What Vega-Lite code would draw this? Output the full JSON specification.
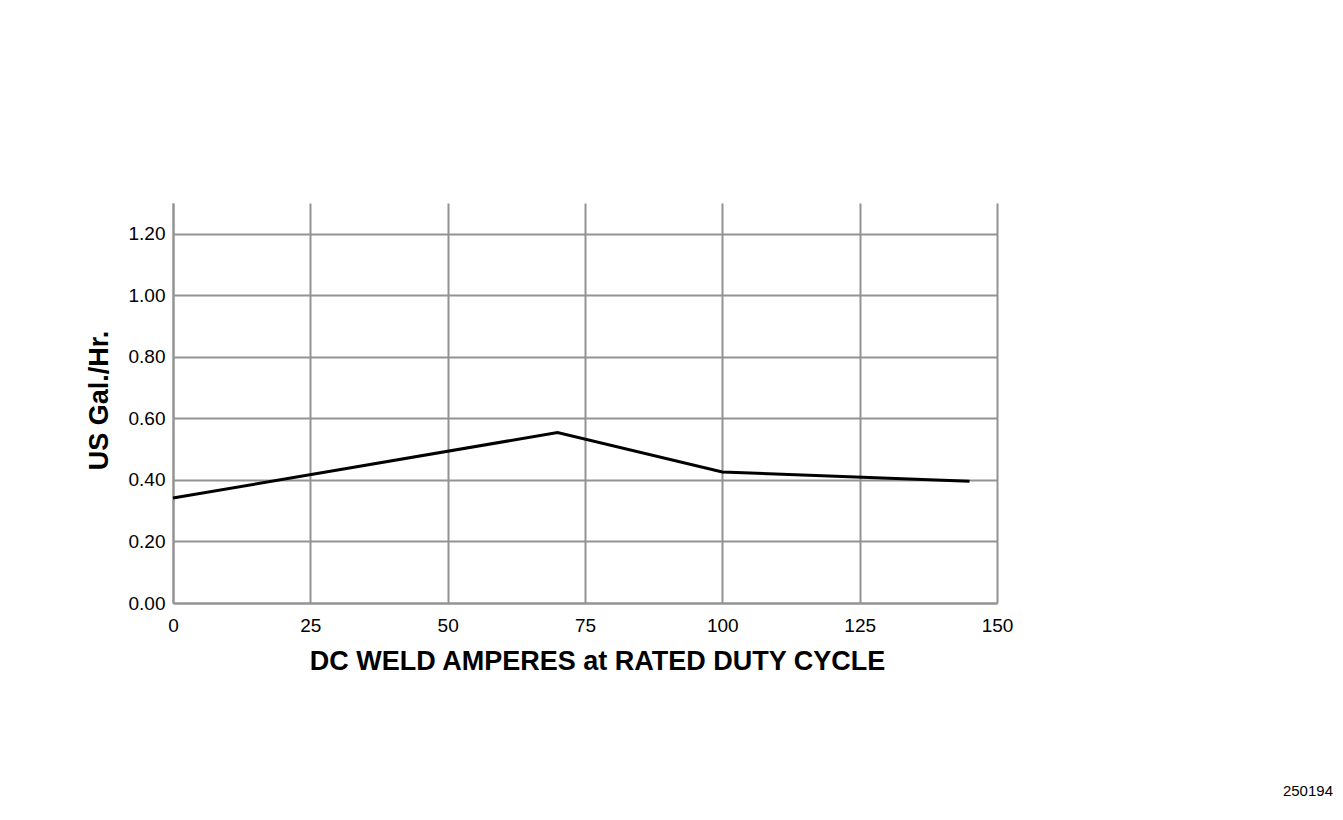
{
  "$schema": "https://vega.github.io/schema/vega-lite/v6.json",
  "width": 824,
  "height": 400,
  "autosize": {"type": "none"},
  "padding": {"left": 173, "top": 203, "right": 346, "bottom": 217},
  "background": "white",
  "config": {
    "font": "Liberation Sans",
    "view": {"stroke": null},
    "axis": {
      "gridColor": "#939393",
      "gridWidth": 2,
      "gridOpacity": 1,
      "domainColor": "#939393",
      "domainWidth": 2,
      "ticks": false,
      "labelFont": "Liberation Sans",
      "labelFontSize": 19,
      "labelColor": "#000000",
      "titleFont": "Liberation Sans",
      "titleFontWeight": "bold",
      "titleColor": "#000000"
    }
  },
  "title": {
    "text": "250194",
    "orient": "bottom",
    "anchor": "end",
    "frame": "group",
    "align": "right",
    "dx": 336,
    "offset": 110,
    "font": "Liberation Sans",
    "fontSize": 15,
    "fontWeight": "normal",
    "color": "#000000"
  },
  "data": {
    "values": [
      {"amps": 0, "gph": 0.341},
      {"amps": 70, "gph": 0.554},
      {"amps": 100, "gph": 0.426},
      {"amps": 145, "gph": 0.396}
    ]
  },
  "mark": {"type": "line", "color": "#000000", "strokeWidth": 3},
  "encoding": {
    "x": {
      "field": "amps",
      "type": "quantitative",
      "scale": {"domain": [0, 150], "nice": false, "zero": true},
      "axis": {
        "values": [0, 25, 50, 75, 100, 125, 150],
        "title": "DC WELD AMPERES at RATED DUTY CYCLE",
        "titleFontSize": 27,
        "titlePadding": 13,
        "titleX": 424,
        "labelPadding": 13,
        "labelFlush": false
      }
    },
    "y": {
      "field": "gph",
      "type": "quantitative",
      "scale": {"domain": [0, 1.3], "nice": false},
      "axis": {
        "values": [0, 0.2, 0.4, 0.6, 0.8, 1.0, 1.2],
        "format": ".2f",
        "title": "US Gal./Hr.",
        "titleFontSize": 27,
        "titlePadding": 15,
        "titleY": 197,
        "labelPadding": 8
      }
    }
  }
}
